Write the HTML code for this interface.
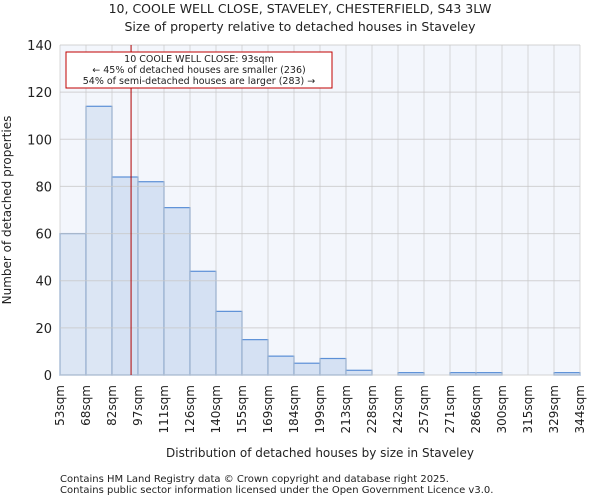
<!DOCTYPE html>
<html><head><meta charset="utf-8"><style>
body{margin:0;background:#fff;font-family:"DejaVu Sans","Liberation Sans",sans-serif}
svg text{font-family:"DejaVu Sans","Liberation Sans",sans-serif;fill:#222}
</style></head><body>
<svg id="chart" width="600" height="500">
<text x="300" y="13" font-size="12.5" text-anchor="middle">10, COOLE WELL CLOSE, STAVELEY, CHESTERFIELD, S43 3LW</text>
<text x="300" y="31" font-size="12.5" text-anchor="middle">Size of property relative to detached houses in Staveley</text>
<rect x="60" y="45" width="520" height="330" fill="#f3f6fc"/>
<g id="bars"></g>
<g id="grid"></g>
<g id="yticks"></g>
<g id="xticks"></g>
<line id="marker" y1="45" y2="375" stroke="#b00000" stroke-width="1"/>
<rect x="66" y="52" width="266" height="36" fill="#fff" stroke="#c00000" stroke-width="1"/>
<text x="199" y="62" font-size="9.5" text-anchor="middle">10 COOLE WELL CLOSE: 93sqm</text>
<text x="199" y="73" font-size="9.5" text-anchor="middle">← 45% of detached houses are smaller (236)</text>
<text x="199" y="84" font-size="9.5" text-anchor="middle">54% of semi-detached houses are larger (283) →</text>
<text x="11" y="210" font-size="12" text-anchor="middle" transform="rotate(-90 11 210)">Number of detached properties</text>
<text x="320" y="457" font-size="12" text-anchor="middle">Distribution of detached houses by size in Staveley</text>
<text x="60" y="482" font-size="10">Contains HM Land Registry data © Crown copyright and database right 2025.</text>
<text x="60" y="493" font-size="10">Contains public sector information licensed under the Open Government Licence v3.0.</text>
</svg>
<script>
const edges=["53sqm","68sqm","82sqm","97sqm","111sqm","126sqm","140sqm","155sqm","169sqm","184sqm","199sqm","213sqm","228sqm","242sqm","257sqm","271sqm","286sqm","300sqm","315sqm","329sqm","344sqm"];
const edgeValues=[53,68,82,97,111,126,140,155,169,184,199,213,228,242,257,271,286,300,315,329,344];
const counts=[60,114,84,82,71,44,27,15,8,5,7,2,0,1,0,1,1,0,0,1];
const yTicks=[0,20,40,60,80,100,120,140];
const markerValue=93;
const NS="http://www.w3.org/2000/svg";
const X0=60,X1=580,Y0=375,Y1=45,YMAX=140;
const bw=(X1-X0)/counts.length;
const xi=i=>X0+i*bw;
const xv=v=>{for(let i=0;i<edgeValues.length-1;i++){if(v<=edgeValues[i+1])return xi(i)+(v-edgeValues[i])/(edgeValues[i+1]-edgeValues[i])*bw;}return X1;};
const y=v=>Y0-v/YMAX*(Y0-Y1);
function mk(t,a,p){const e=document.createElementNS(NS,t);for(const k in a)e.setAttribute(k,a[k]);p.appendChild(e);return e;}
const grid=document.getElementById('grid');
yTicks.forEach(t=>{const l=mk('line',{x1:X0,x2:X1,y1:y(t),y2:y(t),stroke:'#c8c8c8','stroke-width':1,'stroke-opacity':0.8},grid);


const tx=mk('text',{x:X0-8,y:y(t)+5,'font-size':13,'text-anchor':'end'},document.getElementById('yticks'));tx.textContent=t;

});
edges.forEach((e,i)=>{const l=mk('line',{x1:xi(i),x2:xi(i),y1:Y1,y2:Y0,stroke:'#c8c8c8','stroke-width':1,'stroke-opacity':0.7},grid);


const xx=xi(i)+4;const tx=mk('text',{x:xx,y:385,'font-size':12,'text-anchor':'end',transform:`rotate(-90 ${xx} 385)`},document.getElementById('xticks'));tx.textContent=e;

});
const bars=document.getElementById('bars');
counts.forEach((c,i)=>{const r=mk('rect',{x:xi(i),y:y(c),width:bw,height:Y0-y(c),fill:xi(i+1)<=xv(markerValue)+6?'#dce6f4':'#d5e1f3',stroke:'#5b8fd6','stroke-width':1.2},bars);

});
const m=document.getElementById('marker');m.setAttribute('x1',xv(markerValue));m.setAttribute('x2',xv(markerValue));
</script>
</body></html>
